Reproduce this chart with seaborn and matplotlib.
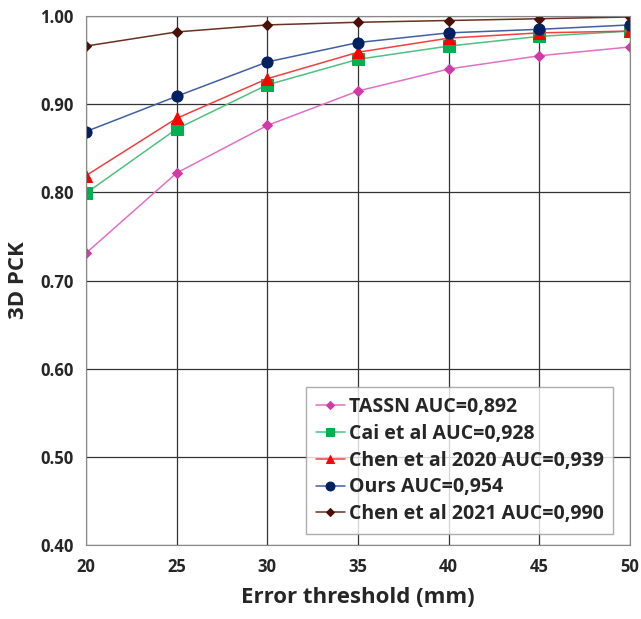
import pandas as pd
import matplotlib.pyplot as plt
import seaborn as sns

# Error thresholds (mm)
thresholds = [20, 25, 30, 35, 40, 45, 50]

# 3D PCK per method
tassn = [0.731, 0.822, 0.876, 0.915, 0.940, 0.955, 0.965]
cai = [0.799, 0.872, 0.922, 0.951, 0.966, 0.977, 0.983]
chen2020 = [0.819, 0.884, 0.929, 0.959, 0.975, 0.981, 0.983]
ours = [0.869, 0.909, 0.948, 0.970, 0.981, 0.985, 0.990]
chen2021 = [0.966, 0.982, 0.990, 0.993, 0.995, 0.997, 0.999]

labels = ["TASSN AUC=0,892", "Cai et al AUC=0,928", "Chen et al 2020 AUC=0,939",
          "Ours AUC=0,954", "Chen et al 2021 AUC=0,990"]
series = [tassn, cai, chen2020, ours, chen2021]

rows = []
for lab, vals in zip(labels, series):
    for t, v in zip(thresholds, vals):
        rows.append({"threshold": t, "pck": v, "method": lab})
df = pd.DataFrame(rows)

sns.set_style("white")
plt.rcParams["font.family"] = ["Open Sans", "DejaVu Sans"]

line_colors = ["#e070c8", "#50c080", "#f04040", "#4060a0", "#6a3020"]
marker_colors = ["#d23aa8", "#00b050", "#ff0000", "#002060", "#4a1008"]
markers = ["D", "s", "^", "o", "D"]
msizes = [5, 8, 8, 8, 5]

fig = plt.figure(figsize=(6.41, 6.19), dpi=100)
ax = fig.add_axes([0.134, 0.1195, 0.849, 0.8545])

for i, lab in enumerate(labels):
    sub = df[df["method"] == lab]
    sns.lineplot(data=sub, x="threshold", y="pck", ax=ax, color=line_colors[i],
                 linewidth=1.1, marker=markers[i], markersize=msizes[i],
                 markerfacecolor=marker_colors[i], markeredgecolor=marker_colors[i],
                 label=lab)

ax.set_xlim(20, 50)
ax.set_ylim(0.40, 1.00)
ax.set_xticks(thresholds)
ax.set_yticks([0.40, 0.50, 0.60, 0.70, 0.80, 0.90, 1.00])
ax.set_yticklabels([f"{v:.2f}" for v in ax.get_yticks()])
ax.grid(True, color="#333333", linewidth=0.9)
for s in ax.spines.values():
    s.set_color("#888888")
    s.set_linewidth(0.8)
ax.tick_params(axis="both", labelsize=12, length=0, pad=9)
for t in ax.get_xticklabels() + ax.get_yticklabels():
    t.set_fontweight("bold")

ax.set_xlabel("Error threshold (mm)", fontsize=16, fontweight="bold", labelpad=8)
ax.set_ylabel("3D PCK", fontsize=16, fontweight="bold", labelpad=8)

leg = ax.legend(loc="lower right", bbox_to_anchor=(0.969, 0.021), borderaxespad=0,
                frameon=True, fancybox=False, prop={"size": 14, "weight": "bold"},
                handlelength=1.5, handletextpad=0.2, labelspacing=0.35,
                borderpad=0.5, numpoints=1, markerscale=0.8)
leg.get_frame().set_edgecolor("#999999")
leg.get_frame().set_linewidth(1.0)

plt.savefig("out.png", dpi=100)
plt.close()
